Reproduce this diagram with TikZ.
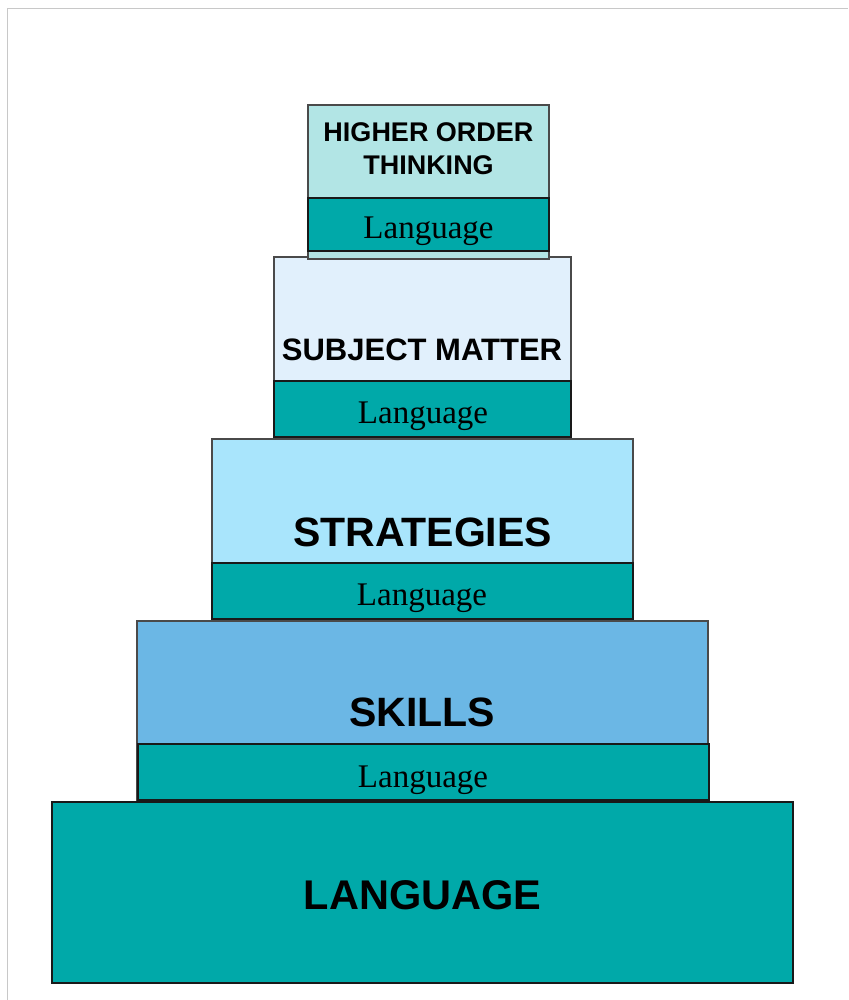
\documentclass[tikz,border=0pt]{standalone}
\usepackage{fontspec}
\setmainfont{Liberation Serif}
\setsansfont{Liberation Sans}
\definecolor{bandteal}{HTML}{00A9A9}
\definecolor{hotfill}{HTML}{B2E5E5}
\definecolor{subjfill}{HTML}{E1F0FC}
\definecolor{stratfill}{HTML}{A9E5FC}
\definecolor{skillfill}{HTML}{6BB7E5}
\definecolor{framegray}{HTML}{C8C8C8}
\definecolor{edgegray}{HTML}{4A4A4A}
\begin{document}
\begin{tikzpicture}[x=1pt,y=-1pt,
  tier/.style={draw=edgegray,line width=1.5pt,inner sep=0pt,outer sep=0pt,rectangle},
  band/.style={draw=black!90,fill=bandteal,line width=1.8pt,inner sep=0pt,outer sep=0pt,rectangle},
  heading/.style={font=\sffamily\bfseries\fontsize{#1}{#1}\selectfont,inner sep=0pt,align=center},
  bandtext/.style={font=\rmfamily\fontsize{33}{33}\selectfont,inner sep=0pt,anchor=base}]
\useasboundingbox (0,0) rectangle (848,1000);
% page frame
\draw[framegray,line width=1pt] (848,9) -- (7,9) -- (7,1000);

% base tier
\node[tier,draw=black!90,line width=2pt,fill=bandteal,minimum width=741pt,minimum height=181pt] (base) at (422.5,892.5) {};
\node[heading=41.5] (baselbl) at (422.5,895) {LANGUAGE};

% skills tier
\node[tier,fill=skillfill,minimum width=571pt,minimum height=179pt] (skills) at (422.5,710.5) {};
\node[band,minimum width=571pt,minimum height=56pt] (skillsband) at (423.5,772) {};
\node[heading=41] (skillslbl) at (422,712) {SKILLS};
\node[bandtext] (skillslang) at (423,787) {Language};

% strategies tier
\node[tier,fill=stratfill,minimum width=421pt,minimum height=180pt] (strat) at (422.5,529) {};
\node[band,minimum width=421pt,minimum height=56pt] (stratband) at (422.5,591) {};
\node[heading=41] (stratlbl) at (422.5,532) {STRATEGIES};
\node[bandtext] (stratlang) at (422,605) {Language};

% subject matter tier
\node[tier,fill=subjfill,minimum width=297pt,minimum height=182pt] (subj) at (422.5,348) {};
\node[band,minimum width=297pt,minimum height=56pt] (subjband) at (422.5,409) {};
\node[heading=31] (subjlbl) at (422,350) {SUBJECT MATTER};
\node[bandtext] (subjlang) at (423,423) {Language};

% higher order thinking tier
\node[tier,fill=hotfill,minimum width=241pt,minimum height=154pt] (hot) at (428.5,182) {};
\node[band,minimum width=241pt,minimum height=53pt] (hotband) at (428.5,224.5) {};
\node[font=\sffamily\bfseries\fontsize{27}{33}\selectfont,inner sep=0pt,align=center] (hotlbl) at (428.5,148.5) {HIGHER ORDER\\THINKING};
\node[bandtext] (hotlang) at (428.5,238) {Language};
\end{tikzpicture}
\end{document}
